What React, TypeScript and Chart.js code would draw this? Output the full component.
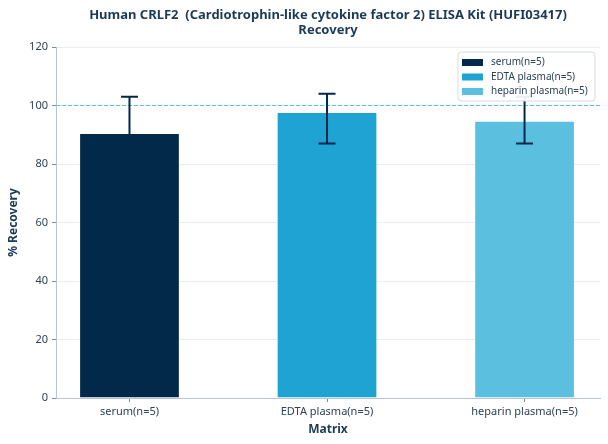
import React, { useEffect, useRef } from "react";
import { Chart, registerables } from "chart.js";

Chart.register(...registerables);

const categories = ["serum(n=5)", "EDTA plasma(n=5)", "heparin plasma(n=5)"];
const recovery = [90.6, 97.8, 94.8];
const errLow = [78.2, 87, 87];
const errHigh = [103, 104, 103];
const barColors = ["#03294a", "#1fa3d2", "#5bc0df"];
const yTicks = [0, 20, 40, 60, 80, 100, 120];
const refLine = 100;
const titleLines = [
  "Human CRLF2  (Cardiotrophin-like cytokine factor 2) ELISA Kit (HUFI03417)",
  "Recovery",
];

const FONT = "'Noto Sans', 'Open Sans', sans-serif";
const TEXT = "#2d4257";
const TITLE = "#1b3a58";
const ERR = "#03294a";
const REF_COLOR = "#5ec1e4";

const customPlugin = {
  id: "custom",
  beforeDatasetsDraw(chart: any) {
    const { ctx, chartArea, scales } = chart;
    const y = Math.round(scales.y.getPixelForValue(refLine)) + 0.5;
    ctx.save();
    ctx.lineWidth = 1;
    ctx.setLineDash([4, 2]);
    ctx.strokeStyle = REF_COLOR;
    ctx.beginPath();
    ctx.moveTo(chartArea.left, y);
    ctx.lineTo(chartArea.right, y);
    ctx.stroke();
    ctx.restore();
  },
  afterDatasetsDraw(chart: any) {
    const { ctx, scales } = chart;
    ctx.save();
    ctx.strokeStyle = ERR;
    ctx.lineWidth = 2;
    ctx.setLineDash([]);
    categories.forEach((_, i) => {
      const x = scales.x.getPixelForValue(i);
      const y1 = scales.y.getPixelForValue(errLow[i]);
      const y2 = scales.y.getPixelForValue(errHigh[i]);
      ctx.beginPath();
      ctx.moveTo(x, y1);
      ctx.lineTo(x, y2);
      ctx.moveTo(x - 8.5, y1);
      ctx.lineTo(x + 8.5, y1);
      ctx.moveTo(x - 8.5, y2);
      ctx.lineTo(x + 8.5, y2);
      ctx.stroke();
    });
    ctx.restore();
  },
  afterDraw(chart: any) {
    const { ctx, chartArea } = chart;
    ctx.save();
    // title
    ctx.fillStyle = TITLE;
    ctx.font = `bold 13px ${FONT}`;
    ctx.textAlign = "center";
    ctx.textBaseline = "middle";
    const cx = (chartArea.left + chartArea.right) / 2;
    titleLines.forEach((t, i) => ctx.fillText(t, cx, 15 + i * 15));

    // legend
    const w = 137;
    const h = 49;
    const lx = chartArea.right - w - 5;
    const ly = chartArea.top + 5;
    ctx.beginPath();
    const r = 3;
    ctx.moveTo(lx + r, ly);
    ctx.arcTo(lx + w, ly, lx + w, ly + h, r);
    ctx.arcTo(lx + w, ly + h, lx, ly + h, r);
    ctx.arcTo(lx, ly + h, lx, ly, r);
    ctx.arcTo(lx, ly, lx + w, ly, r);
    ctx.closePath();
    ctx.fillStyle = "rgba(255,255,255,0.92)";
    ctx.fill();
    ctx.strokeStyle = "#d5dde4";
    ctx.lineWidth = 1;
    ctx.stroke();
    ctx.font = `10px ${FONT}`;
    ctx.textAlign = "left";
    ctx.textBaseline = "middle";
    categories.forEach((c, i) => {
      const cy = ly + 10.5 + i * 14.5;
      ctx.fillStyle = barColors[i];
      ctx.fillRect(lx + 4, cy - 3.5, 21, 7);
      ctx.fillStyle = TEXT;
      ctx.fillText(c, lx + 33, cy);
    });
    ctx.restore();
  },
};

export default function App() {
  const ref = useRef<HTMLCanvasElement | null>(null);
  useEffect(() => {
    document.body.style.margin = "0";
    if (!ref.current) return;
    const chart = new Chart(ref.current, {
      type: "bar",
      data: {
        datasets: [
          {
            data: categories.map((_, i) => ({ x: i, y: recovery[i] })) as any,
            backgroundColor: barColors,
            borderColor: "rgba(255,255,255,0.45)",
            borderWidth: 1,
            categoryPercentage: 1,
            barPercentage: 0.51,
          },
        ],
      },
      options: {
        responsive: false,
        animation: false,
        layout: { padding: { top: 47, right: 8, left: 0, bottom: 0 } },
        plugins: {
          legend: { display: false },
          title: { display: false },
          tooltip: { enabled: false },
        },
        scales: {
          x: {
            type: "linear",
            offset: false,
            min: -0.372,
            max: 2.382,
            afterBuildTicks: (axis: any) => {
              axis.ticks = categories.map((_, i) => ({ value: i }));
            },
            afterFit: (axis: any) => {
              axis.height = 46;
            },
            grid: {
              offset: false,
              drawOnChartArea: false,
              drawTicks: true,
              tickLength: 4,
              tickColor: "#7f8c99",
            },
            border: { color: "#b8c4ce" },
            ticks: {
              autoSkip: false,
              maxRotation: 0,
              padding: 3,
              color: TEXT,
              font: { family: FONT, size: 11 },
              callback: (v: any) => categories[v as number] ?? "",
            },
            title: {
              display: true,
              text: "Matrix",
              color: TITLE,
              font: { family: FONT, size: 12, weight: "bold" },
              padding: { top: 0, bottom: 7 },
            },
          },
          y: {
            min: 0,
            max: 120,
            afterBuildTicks: (axis: any) => {
              axis.ticks = yTicks.map((v) => ({ value: v }));
            },
            afterFit: (axis: any) => {
              axis.width = 56;
            },
            grid: { color: "#e8edf1", tickLength: 4, tickColor: "#7f8c99" },
            border: { color: "#b8c4ce" },
            ticks: {
              padding: 4,
              color: TEXT,
              font: { family: FONT, size: 11 },
            },
            title: {
              display: true,
              text: "% Recovery",
              color: TITLE,
              font: { family: FONT, size: 12, weight: "bold" },
              padding: { top: 6, bottom: 0 },
            },
          },
        },
      },
      plugins: [customPlugin],
    });
    return () => chart.destroy();
  }, []);
  return (
    <div style={{ width: 608, height: 444 }}>
      <canvas ref={ref} width={608} height={444} style={{ display: "block" }} />
    </div>
  );
}
